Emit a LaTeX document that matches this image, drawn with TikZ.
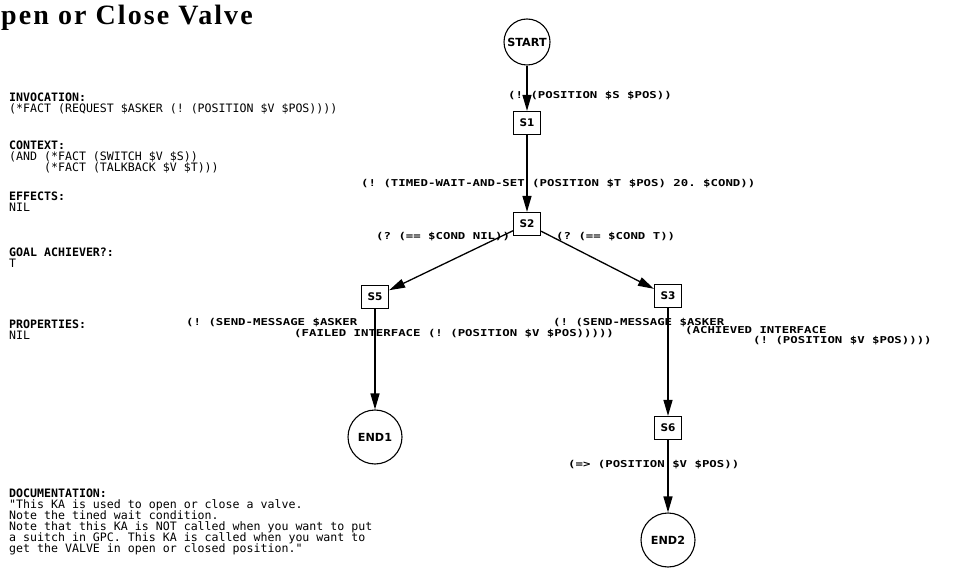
\documentclass[tikz,border=0pt]{standalone}
\usepackage{fontspec}
\setmainfont{Liberation Serif}
\newfontfamily\titlefont[LetterSpace=7.5]{Liberation Serif}
\newfontfamily\monofont{DejaVu Sans Mono}
\newfontfamily\labfont[FakeStretch=1.3]{DejaVu Sans Mono}
\newfontfamily\nodefont{DejaVu Sans}
\newcommand\tightlines{\lineskiplimit=-100pt\relax}
\usetikzlibrary{arrows.meta}
\begin{document}
\frenchspacing
\begin{tikzpicture}[x=1pt,y=-1pt,
  state/.style={circle,draw,line width=1.1pt,minimum size=46pt,inner sep=0pt,
    font={\nodefont\bfseries\fontsize{11.2}{11}\selectfont}},
  stepbox/.style={draw,line width=1.2pt,minimum width=27pt,minimum height=23pt,inner sep=0pt,
    font={\nodefont\bfseries\fontsize{10.5}{10.5}\selectfont}},
  edge/.style={line width=1.3pt,-{Triangle[length=16pt,width=9pt]}},
  lab/.style={inner sep=0pt,anchor=base west,font={\labfont\bfseries\fontsize{9.5}{10}\selectfont}},
  txt/.style={inner sep=0pt,anchor=base west,align=left,
    font={\monofont\fontsize{11.6}{11}\selectfont\tightlines}},
]
\useasboundingbox (0,0) rectangle (956,577);
\fill[white] (0,0) rectangle (956,577);

% title
\node[inner sep=0pt,anchor=base west,font={\titlefont\bfseries\fontsize{28}{28}\selectfont}] (title) at (1,25) {pen or Close Valve};

% left text blocks (anchor = baseline of last line)
\node[txt] (inv) at (9,113) {{\bfseries INVOCATION:}\\(*FACT (REQUEST \$ASKER (! (POSITION \$V \$POS))))};
\node[txt] (ctx) at (9,172) {{\bfseries CONTEXT:}\\(AND (*FACT (SWITCH \$V \$S))\\\phantom{(AND~}(*FACT (TALKBACK \$V \$T)))};
\node[txt] (eff) at (9,212) {{\bfseries EFFECTS:}\\NIL};
\node[txt] (goal) at (9,268) {{\bfseries GOAL ACHIEVER?:}\\T};
\node[txt] (prop) at (9,340) {{\bfseries PROPERTIES:}\\NIL};
\node[txt] (doc) at (9,552) {{\bfseries DOCUMENTATION:}\\"This KA is used to open or close a valve.\\Note the tined wait condition.\\Note that this KA is NOT called when you want to put\\a suitch in GPC. This KA is called when you want to\\get the VALVE in open or closed position."};

% graph nodes
\node[state] (start) at (527,42) {START};
\node[stepbox] (s1) at (527,123) {S1};
\node[stepbox] (s2) at (527,224) {S2};
\node[stepbox] (s5) at (375,297) {S5};
\node[stepbox] (s3) at (668,296) {S3};
\node[state,minimum size=54pt] (end1) at (375,437) {END1};
\node[stepbox] (s6) at (668,428) {S6};
\node[state,minimum size=54pt] (end2) at (668,540) {END2};

% edges
\draw[edge] (start) -- (s1);
\draw[edge] (s1) -- (s2);
\draw[edge] (s2) -- (s5);
\draw[edge] (s2) -- (s3);
\draw[edge] (s5) -- (end1);
\draw[edge] (s3) -- (s6);
\draw[edge] (s6) -- (end2);

% edge labels
\node[lab] (l1) at (508,99) {(! (POSITION \$S \$POS))};
\node[lab] (l2) at (361,187) {(! (TIMED-WAIT-AND-SET (POSITION \$T \$POS) 20. \$COND))};
\node[lab] (l3) at (376,240) {(? (== \$COND NIL))};
\node[lab] (l4) at (556,240) {(? (== \$COND T))};
\node[lab] (l5a) at (186,326) {(! (SEND-MESSAGE \$ASKER};
\node[lab] (l5b) at (294,337) {(FAILED INTERFACE (! (POSITION \$V \$POS)))))};
\node[lab] (l6a) at (553,326) {(! (SEND-MESSAGE \$ASKER};
\node[lab] (l6b) at (685,334) {(ACHIEVED INTERFACE};
\node[lab] (l6c) at (753,344) {(! (POSITION \$V \$POS))))};
\node[lab] (l7) at (568,467) {(=> (POSITION \$V \$POS))};
\end{tikzpicture}
\end{document}
